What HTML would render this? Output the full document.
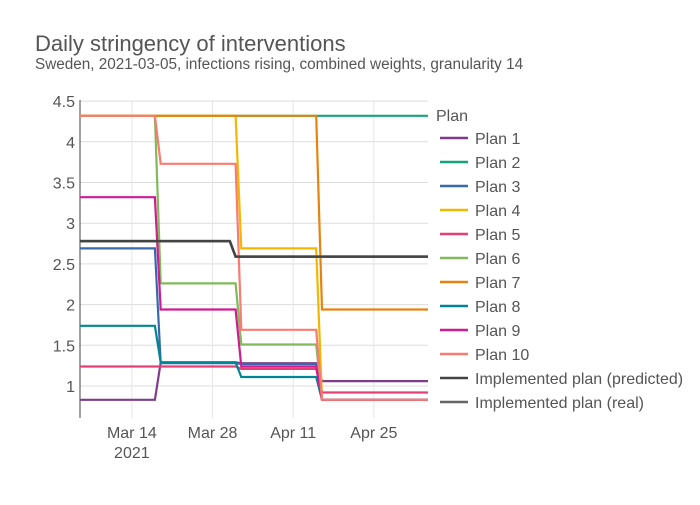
<!DOCTYPE html>
<html><head><meta charset="utf-8"><style>
body{margin:0;background:#fff;font-family:"Liberation Sans",sans-serif}
svg text{font-family:"Liberation Sans",sans-serif}
</style></head><body>
<svg width="700" height="500" id="chart">
<text x="35" y="51" font-size="22" fill="#555">Daily stringency of interventions</text>
<text x="35" y="69" font-size="15.3" fill="#555">Sweden, 2021-03-05, infections rising, combined weights, granularity 14</text>
<g id="grid"></g><g id="series"></g><g id="legend"></g>
</svg>
<script>
const yTicks=[1,1.5,2,2.5,3,3.5,4,4.5];
const yTickLabels=["1","1.5","2","2.5","3","3.5","4","4.5"];
const xTickDays=[9,23,37,51];
const xTickLabels=["Mar 14","Mar 28","Apr 11","Apr 25"];
const seriesNames=["Plan 1","Plan 2","Plan 3","Plan 4","Plan 5","Plan 6","Plan 7","Plan 8","Plan 9","Plan 10","Implemented plan (predicted)","Implemented plan (real)"];
const changeDays=[0,14,28,42];
const plan1=[0.83,1.29,1.28,1.06];
const plan2=[4.32,4.32,4.32,4.32];
const plan3=[2.69,1.28,1.27,0.83];
const plan4=[4.32,4.32,2.69,0.83];
const plan5=[1.24,1.24,1.21,0.92];
const plan6=[4.32,2.26,1.51,0.83];
const plan7=[4.32,4.32,4.32,1.94];
const plan8=[1.74,1.29,1.11,0.83];
const plan9=[3.32,1.94,1.24,0.83];
const plan10=[4.32,3.73,1.69,0.83];
const implChangeDays=[0,27];
const implPredicted=[2.78,2.59];
const implReal=[2.78,2.59];
const colors=["#7F3C8D","#11A579","#3969AC","#F2B701","#E73F74","#80BA5A","#E68310","#008695","#CF1C90","#f97b72","#444444","#666666"];
const NS="http://www.w3.org/2000/svg";
const x0=80,x1=428,yTop=100,yBot=418,lastDay=60.4;
const xs=d=>x0+d*(x1-x0)/lastDay;
const ys=v=>386-(v-1)*81.4;
function mk(t,a,p){const e=document.createElementNS(NS,t);for(const k in a)e.setAttribute(k,a[k]);p.appendChild(e);return e;}
const grid=document.getElementById('grid');
yTicks.forEach((v,i)=>{
 const l=mk('line',{x1:x0,x2:x1,y1:ys(v),y2:ys(v),stroke:'#ddd','stroke-width':1},grid);
 
 
 const t=mk('text',{x:75,y:ys(v)+6,'text-anchor':'end','font-size':16,fill:'#555'},grid);
 t.textContent=yTickLabels[i];
 
 
});
xTickDays.forEach((d,i)=>{
 const l=mk('line',{x1:xs(d),x2:xs(d),y1:yTop,y2:yBot,stroke:'#e6e6e6','stroke-width':1},grid);
 
 
 const t=mk('text',{x:xs(d),y:438,'text-anchor':'middle','font-size':16,fill:'#555'},grid);
 t.textContent=xTickLabels[i];
 
 
});
const yr=mk('text',{x:xs(9),y:458,'text-anchor':'middle','font-size':16,fill:'#555'},grid);
yr.textContent="2021";


const ax=mk('line',{x1:x0,x2:x0,y1:yTop,y2:yBot,stroke:'#444','stroke-width':1},grid);


function stepPath(days,vals){
 let pts=[];
 for(let i=0;i<vals.length;i++){
  const start=days[i];const end=i+1<days.length?days[i+1]-1:lastDay;
  pts.push([xs(start),ys(vals[i])]);pts.push([xs(end),ys(vals[i])]);
 }
 return 'M'+pts.map(p=>p[0].toFixed(1)+','+p[1].toFixed(1)).join('L');
}
const allData=[plan1,plan2,plan3,plan4,plan5,plan6,plan7,plan8,plan9,plan10];
const sg=document.getElementById('series');
const lr=mk('path',{d:stepPath(implChangeDays,implReal),fill:'none',stroke:colors[11],'stroke-width':2.5},sg);


allData.forEach((vals,i)=>{
 const p=mk('path',{d:stepPath(changeDays,vals),fill:'none',stroke:colors[i],'stroke-width':2.2},sg);
 
 
});
const lp=mk('path',{d:stepPath(implChangeDays,implPredicted),fill:'none',stroke:colors[10],'stroke-width':2.5},sg);


const lg=document.getElementById('legend');
const lt=mk('text',{x:436,y:121,'font-size':16,fill:'#555'},lg);
lt.textContent="Plan";


seriesNames.forEach((n,i)=>{
 const y=138+i*24;
 const g=mk('g',{},lg);
 
 
 mk('line',{x1:440,x2:468,y1:y,y2:y,stroke:colors[i],'stroke-width':2.5},g);
 const t=mk('text',{x:475,y:y+6,'font-size':16,fill:'#555'},g);
 t.textContent=n;
});
</script>
</body></html>
